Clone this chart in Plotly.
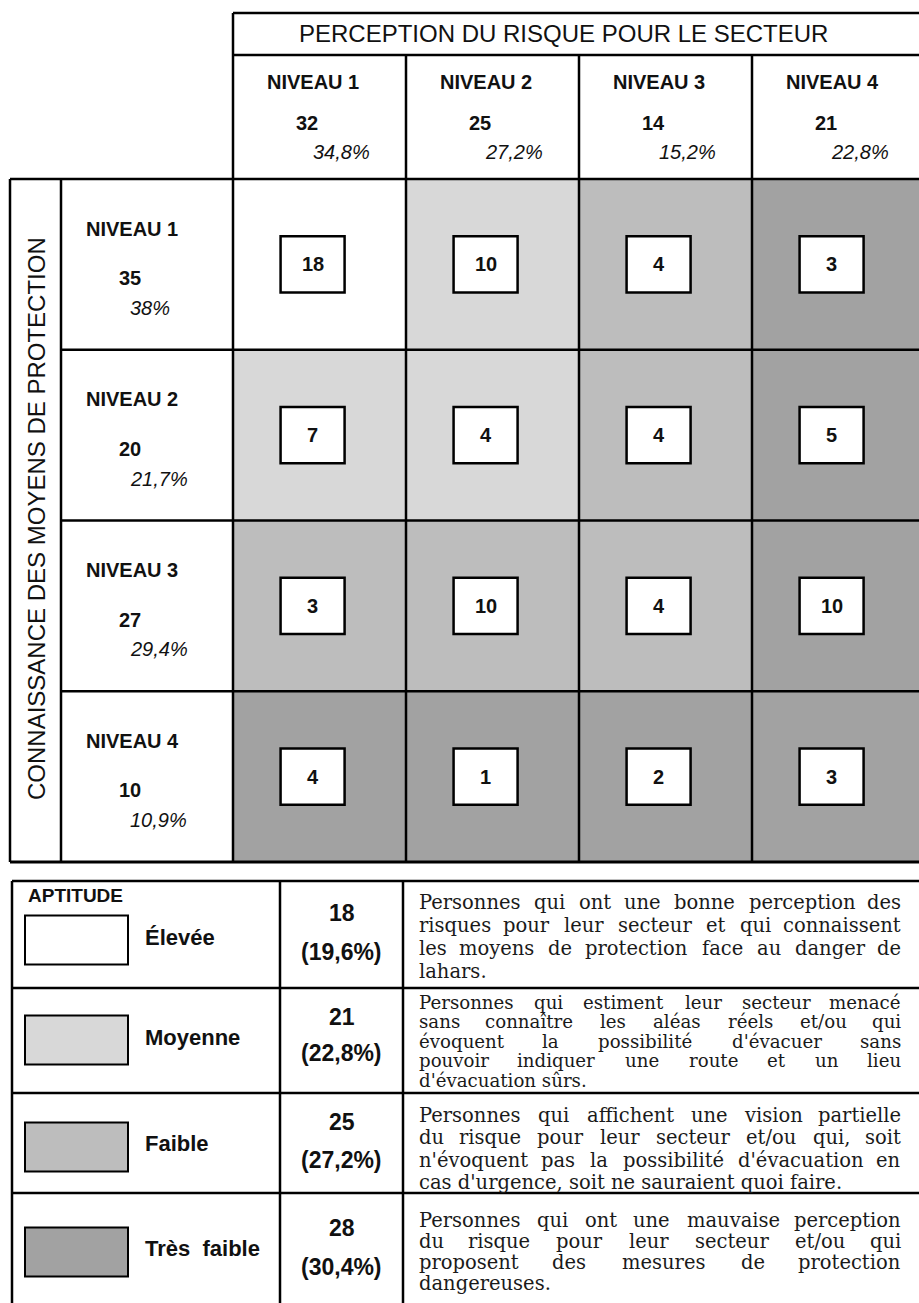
import plotly.graph_objects as go

# ---------------- DATA ----------------
perception_levels = ["NIVEAU 1", "NIVEAU 2", "NIVEAU 3", "NIVEAU 4"]
perception_counts = [32, 25, 14, 21]
perception_pct = ["34,8%", "27,2%", "15,2%", "22,8%"]

knowledge_levels = ["NIVEAU 1", "NIVEAU 2", "NIVEAU 3", "NIVEAU 4"]
knowledge_counts = [35, 20, 27, 10]
knowledge_pct = ["38%", "21,7%", "29,4%", "10,9%"]

# rows = knowledge level, columns = perception level
cell_counts = [
    [18, 10, 4, 3],
    [7, 4, 4, 5],
    [3, 10, 4, 10],
    [4, 1, 2, 3],
]
# aptitude class of each cell: 0 Elevee, 1 Moyenne, 2 Faible, 3 Tres faible
cell_aptitude = [
    [0, 1, 2, 3],
    [1, 1, 2, 3],
    [2, 2, 2, 3],
    [3, 3, 3, 3],
]

aptitude_labels = ["Élevée", "Moyenne", "Faible", "Très  faible"]
aptitude_counts = [18, 21, 25, 28]
aptitude_pct = ["(19,6%)", "(22,8%)", "(27,2%)", "(30,4%)"]
aptitude_colors = ["#ffffff", "#d8d8d8", "#bdbdbd", "#a2a2a2"]
aptitude_desc = [
    ["Personnes qui ont une bonne perception des",
     "risques pour leur secteur et qui connaissent",
     "les moyens de protection face au danger de",
     "lahars."],
    ["Personnes qui estiment leur secteur menacé",
     "sans connaître les aléas réels et/ou qui",
     "évoquent la possibilité d'évacuer sans",
     "pouvoir indiquer une route et un lieu",
     "d'évacuation sûrs."],
    ["Personnes qui affichent une vision partielle",
     "du risque pour leur secteur et/ou qui, soit",
     "n'évoquent pas la possibilité d'évacuation en",
     "cas d'urgence, soit ne sauraient quoi faire."],
    ["Personnes qui ont une mauvaise perception",
     "du risque pour leur secteur et/ou qui",
     "proposent des mesures de protection",
     "dangereuses."],
]
title_top = "PERCEPTION DU RISQUE POUR LE SECTEUR"
title_left = "CONNAISSANCE DES MOYENS DE PROTECTION"
legend_title = "APTITUDE"

# ---------------- LAYOUT HELPERS ----------------
W, H = 919, 1303
SANS = "Liberation Sans, Arial, sans-serif"
SERIF = "DejaVu Serif, serif"
LW = 2.5
INK = "#111"


def px(x):
    return x / W


def py(y):
    return 1 - y / H


GRID_L, GRID_R = 233, 919
GRID_T, GRID_B = 179, 862
CELL_W = 173.0
n = len(perception_levels)

fig = go.Figure()

colorscale = [[k / 3, c] for k, c in enumerate(aptitude_colors)]
fig.add_trace(go.Heatmap(
    z=cell_aptitude,
    x=list(range(n)),
    y=list(range(n)),
    colorscale=colorscale,
    zmin=0, zmax=3,
    showscale=False,
    hoverinfo="skip",
))

xr = [-0.5, -0.5 + (GRID_R - GRID_L) / CELL_W]
fig.update_layout(
    width=W, height=H,
    margin=dict(l=0, r=0, t=0, b=0),
    paper_bgcolor="white", plot_bgcolor="white",
    showlegend=False,
    xaxis=dict(domain=[px(GRID_L), 1.0], range=xr, visible=False, fixedrange=True),
    yaxis=dict(domain=[py(GRID_B), py(GRID_T)], range=[n - 0.5, -0.5],
               visible=False, fixedrange=True),
)

shapes = []
annotations = []


def pline(x0, y0, x1, y1, w=LW):
    shapes.append(dict(type="line", xref="paper", yref="paper",
                       x0=px(x0), y0=py(y0), x1=px(x1), y1=py(y1),
                       line=dict(color="black", width=w)))


def ptext(x, y, text, size, anchor="left", font=SANS, angle=0, color=INK):
    annotations.append(dict(xref="paper", yref="paper", x=px(x), y=py(y),
                            text=text, showarrow=False, xanchor=anchor,
                            yanchor="middle", textangle=angle,
                            font=dict(family=font, size=size, color=color)))


# approximate advance widths (em) of DejaVu Serif, used only to justify lines
CW = {" ": .318, "a": .596, "b": .640, "c": .560, "d": .640, "e": .592, "f": .370,
      "g": .640, "h": .644, "i": .320, "j": .310, "k": .606, "l": .320, "m": .948,
      "n": .644, "o": .602, "p": .640, "q": .640, "r": .478, "s": .513, "t": .402,
      "u": .644, "v": .565, "w": .856, "x": .564, "y": .565, "z": .527, ",": .318,
      ".": .318, "/": .337, "'": .275, "P": .733, "é": .592, "è": .592, "ê": .592,
      "î": .320, "û": .644, "â": .596, "à": .596, "ô": .602, "ç": .560}


def est_w(s, size):
    return sum(CW.get(ch, 0.6) for ch in s) * size


def justified_line(text, y, left, right, size):
    words = text.split(" ")
    widths = [est_w(w, size) for w in words]
    gap = (right - left - sum(widths)) / (len(words) - 1)
    x = left
    for k, (w, wd) in enumerate(zip(words, widths)):
        if k == 0:
            ptext(left, y, w, size, anchor="left", font=SERIF, color="#1a1a1a")
        elif k == len(words) - 1:
            ptext(right, y, w, size, anchor="right", font=SERIF, color="#1a1a1a")
        else:
            ptext(x + wd / 2, y, w, size, anchor="center", font=SERIF, color="#1a1a1a")
        x += wd + gap


# ---- main grid lines ----
HEAD_T, HEAD_M = 13, 55
pline(GRID_L, HEAD_T, W, HEAD_T)
pline(GRID_L, HEAD_M, W, HEAD_M)
pline(GRID_L, HEAD_T, GRID_L, GRID_B)
pline(10, GRID_T, W, GRID_T)
pline(10, GRID_B, W, GRID_B, 3)
pline(10, GRID_T, 10, GRID_B)
pline(61, GRID_T, 61, GRID_B)
for i in range(1, n):
    shapes.append(dict(type="line", xref="x", yref="paper",
                       x0=i - 0.5, x1=i - 0.5, y0=py(HEAD_M), y1=py(GRID_B),
                       line=dict(color="black", width=LW)))
    shapes.append(dict(type="line", xref="paper", yref="y",
                       x0=px(61), x1=1.0, y0=i - 0.5, y1=i - 0.5,
                       line=dict(color="black", width=LW)))

# ---- header texts ----
ptext(563, 34, title_top, 24, anchor="center")
for i in range(n):
    annotations.append(dict(xref="x", yref="paper", x=i - 0.315, y=py(82),
                            text="<b>" + perception_levels[i] + "</b>", showarrow=False,
                            xanchor="left", yanchor="middle",
                            font=dict(family=SANS, size=20, color=INK)))
    annotations.append(dict(xref="x", yref="paper", x=i - 0.150, y=py(123),
                            text="<b>" + str(perception_counts[i]) + "</b>", showarrow=False,
                            xanchor="left", yanchor="middle",
                            font=dict(family=SANS, size=20, color=INK)))
    annotations.append(dict(xref="x", yref="paper", x=i + 0.305, y=py(152),
                            text="<i>" + perception_pct[i] + "</i>", showarrow=False,
                            xanchor="right", yanchor="middle",
                            font=dict(family=SANS, size=20, color=INK)))

# ---- row headers ----
ptext(36, 519, title_left, 24, anchor="center", angle=-90)
for j in range(n):
    annotations.append(dict(xref="paper", yref="y", x=px(84), y=j - 0.21,
                            text="<b>" + knowledge_levels[j] + "</b>", showarrow=False,
                            xanchor="left", yanchor="middle",
                            font=dict(family=SANS, size=20, color=INK)))
    annotations.append(dict(xref="paper", yref="y", x=px(117), y=j + 0.08,
                            text="<b>" + str(knowledge_counts[j]) + "</b>", showarrow=False,
                            xanchor="left", yanchor="middle",
                            font=dict(family=SANS, size=20, color=INK)))
    annotations.append(dict(xref="paper", yref="y", x=px(128), y=j + 0.255,
                            text="<i>" + knowledge_pct[j] + "</i>", showarrow=False,
                            xanchor="left", yanchor="middle",
                            font=dict(family=SANS, size=20, color=INK)))

# ---- cell boxes with counts ----
BX, BH, DX = 0.185, 0.165, -0.04
for j in range(n):
    for i in range(n):
        shapes.append(dict(type="rect", xref="x", yref="y",
                           x0=i + DX - BX, x1=i + DX + BX, y0=j - BH, y1=j + BH,
                           fillcolor="white", line=dict(color="black", width=2.5),
                           layer="above"))
        annotations.append(dict(xref="x", yref="y", x=i + DX, y=j,
                                text="<b>" + str(cell_counts[j][i]) + "</b>",
                                showarrow=False, xanchor="center", yanchor="middle",
                                font=dict(family=SANS, size=20, color=INK)))

# ---- legend table ----
L_ROWS = [881, 988, 1093, 1193, 1303]
L_X = [12, 280, 403, W]
pline(L_X[0], L_ROWS[0], W, L_ROWS[0])
for y in L_ROWS[1:4]:
    pline(L_X[0], y, W, y)
for x in L_X[:3]:
    pline(x, L_ROWS[0], x, H)

ptext(26, 895, "<b>" + legend_title + "</b>", 19)
swatch_cy = [940, 1040, 1147, 1252]
label_cy = [937, 1037, 1143, 1248]
num_cy = [913, 1017, 1122, 1228]
pct_cy = [952, 1053, 1160, 1267]
desc_start = [902, 1002, 1115, 1220]
desc_step = [23.3, 19.6, 22.5, 21.0]
desc_size = [19.5, 18.2, 19.5, 19.5]
TXT_L, TXT_R = 417, 903
for k in range(len(aptitude_labels)):
    shapes.append(dict(type="rect", xref="paper", yref="paper",
                       x0=px(25), x1=px(128), y0=py(swatch_cy[k] - 24.5),
                       y1=py(swatch_cy[k] + 24.5), fillcolor=aptitude_colors[k],
                       line=dict(color="black", width=2)))
    ptext(143, label_cy[k], "<b>" + aptitude_labels[k] + "</b>", 22)
    cx = (L_X[1] + L_X[2]) / 2
    ptext(cx, num_cy[k], "<b>" + str(aptitude_counts[k]) + "</b>", 23, anchor="center")
    ptext(cx, pct_cy[k], "<b>" + aptitude_pct[k] + "</b>", 23, anchor="center")
    lines = aptitude_desc[k]
    for m, line in enumerate(lines):
        yy = desc_start[k] + m * desc_step[k]
        if m < len(lines) - 1:
            justified_line(line, yy, TXT_L, TXT_R, desc_size[k])
        else:
            ptext(TXT_L, yy, line, desc_size[k], font=SERIF, color="#1a1a1a")

fig.update_layout(shapes=shapes, annotations=annotations)

fig.write_html("out.html", config={"displayModeBar": False},
               post_script="document.body.style.margin='0';document.body.style.overflow='hidden';")
